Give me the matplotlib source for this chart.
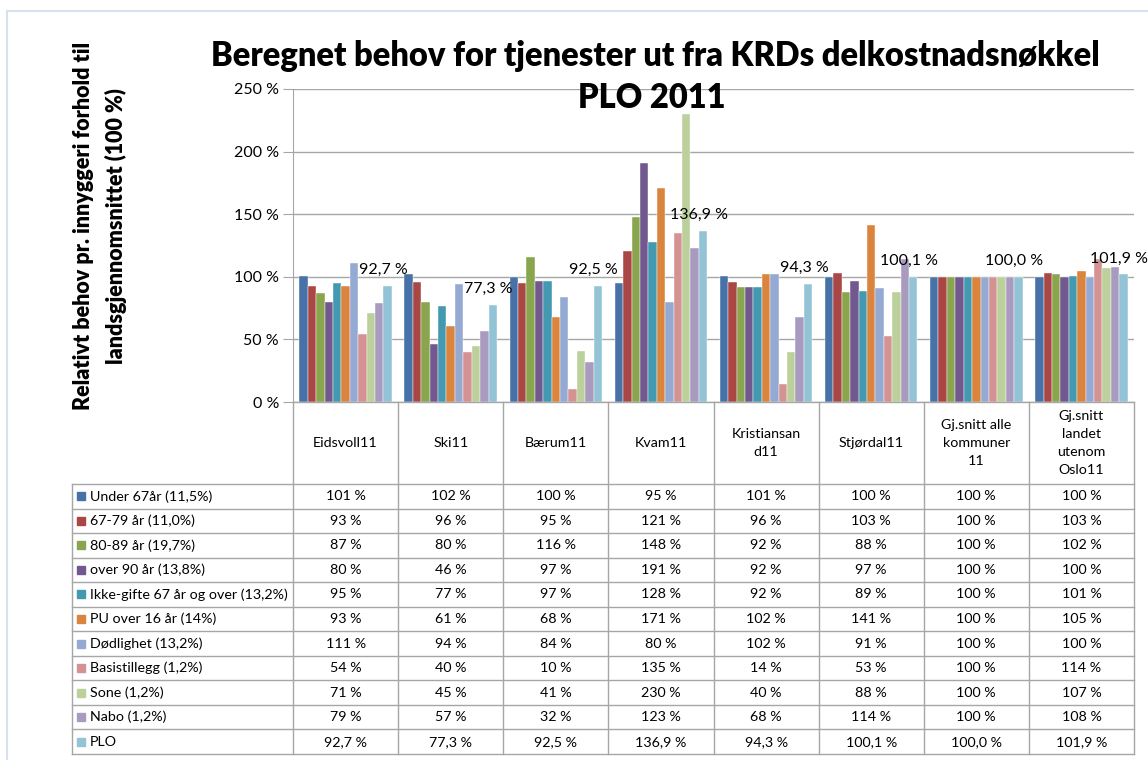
import numpy as np
import matplotlib.pyplot as plt
from matplotlib.lines import Line2D
from matplotlib.patches import Rectangle

plt.rcParams['font.family'] = ['Lato', 'DejaVu Sans']

W, H = 1148, 760

categories = ["Eidsvoll11", "Ski11", "Bærum11", "Kvam11", "Kristiansan\nd11",
              "Stjørdal11", "Gj.snitt alle\nkommuner\n11",
              "Gj.snitt\nlandet\nutenom\nOslo11"]
series_names = ["Under 67år (11,5%)", "67-79 år (11,0%)", "80-89 år (19,7%)",
                "over 90 år (13,8%)", "Ikke-gifte 67 år og over (13,2%)",
                "PU over 16 år (14%)", "Dødlighet (13,2%)", "Basistillegg (1,2%)",
                "Sone (1,2%)", "Nabo (1,2%)", "PLO"]
under_67 = [101, 102, 100, 95, 101, 100, 100, 100]
aar_67_79 = [93, 96, 95, 121, 96, 103, 100, 103]
aar_80_89 = [87, 80, 116, 148, 92, 88, 100, 102]
over_90 = [80, 46, 97, 191, 92, 97, 100, 100]
ikke_gifte = [95, 77, 97, 128, 92, 89, 100, 101]
pu_over_16 = [93, 61, 68, 171, 102, 141, 100, 105]
dodlighet = [111, 94, 84, 80, 102, 91, 100, 100]
basistillegg = [54, 40, 10, 135, 14, 53, 100, 114]
sone = [71, 45, 41, 230, 40, 88, 100, 107]
nabo = [79, 57, 32, 123, 68, 114, 100, 108]
plo = [92.7, 77.3, 92.5, 136.9, 94.3, 100.1, 100.0, 101.9]

series = [under_67, aar_67_79, aar_80_89, over_90, ikke_gifte, pu_over_16,
          dodlighet, basistillegg, sone, nabo, plo]
colors = ["#4672A8", "#AA4744", "#89A54E", "#71598F", "#4299B0", "#DB843D",
          "#95AAD3", "#D49392", "#BBD09A", "#A99BC0", "#93C4D6"]

GRID = "#A6A6A6"


def fx(px):
    return px / W


def fy(py):
    return 1 - py / H


fig = plt.figure(figsize=(W / 100, H / 100), dpi=100)

# outer chart border (only top/left inside the image)
fig.add_artist(Line2D([fx(7), fx(W)], [fy(11), fy(11)], color="#D6E2F0", lw=1.5))
fig.add_artist(Line2D([fx(7), fx(7)], [fy(11), fy(H)], color="#D6E2F0", lw=1.5))

x0, x1, ytop, ybot = 293, 1134, 89, 402
ax = fig.add_axes([fx(x0), fy(ybot), fx(x1 - x0), (ybot - ytop) / H])
ax.set_xlim(0, len(categories))
ax.set_ylim(0, 250)
ax.set_yticks(np.arange(0, 251, 50))
ax.set_yticklabels([f"{v} %" for v in range(0, 251, 50)], fontsize=11.5)
ax.set_xticks([])
for s in ["top", "right", "bottom"]:
    ax.spines[s].set_visible(False)
ax.spines["left"].set_color(GRID)
ax.tick_params(axis="y", color=GRID, length=7, pad=3)
ax.grid(axis="y", color=GRID, lw=1)
ax.set_axisbelow(True)

bw = 0.08
n = len(series)
for j, (vals, c) in enumerate(zip(series, colors)):
    xs = np.arange(len(categories)) + 0.5 + (j - (n - 1) / 2) * bw
    ax.bar(xs, vals, width=bw, color=c, edgecolor="white", linewidth=0.3, zorder=2)
    if j == n - 1:
        for x, v in zip(xs, vals):
            ax.annotate(f"{v:.1f} %".replace(".", ","), (x, v), xytext=(-3, 11.5),
                        textcoords="offset points", ha="center", va="center",
                        fontsize=11.5, annotation_clip=False, zorder=3)

# titles
fig.text(fx(655), fy(56), "Beregnet behov for tjenester ut fra KRDs delkostnadsnøkkel",
         ha="center", va="center", fontsize=23.5, fontweight="heavy")
fig.text(fx(652), fy(98), "PLO 2011", ha="center", va="center",
         fontsize=23.5, fontweight="heavy")
fig.text(fx(100), fy(226), "Relativt behov pr. innyggeri forhold til\nlandsgjennomsnittet (100 %)",
         ha="center", va="center", rotation=90, fontsize=15.5, fontweight="heavy",
         multialignment="center", linespacing=1.55)

# data table
colw = (x1 - x0) / len(categories)
xs_edges = [x0 + i * colw for i in range(len(categories) + 1)]
row_top, row_bot, leg_left = 484, 754, 72
rh = (row_bot - row_top) / n

def hline(xa, xb, y):
    fig.add_artist(Line2D([fx(xa), fx(xb)], [fy(y), fy(y)], color=GRID, lw=1))

def vline(x, ya, yb):
    fig.add_artist(Line2D([fx(x), fx(x)], [fy(ya), fy(yb)], color=GRID, lw=1))

hline(x0, x1, ybot)
for k in range(n + 1):
    hline(leg_left, x1, row_top + k * rh)
for x in xs_edges:
    vline(x, ybot, row_bot)
vline(leg_left, row_top, row_bot)

for i, cat in enumerate(categories):
    cx = (xs_edges[i] + xs_edges[i + 1]) / 2
    fig.text(fx(cx), fy(443), cat, ha="center", va="center", fontsize=10.25,
             multialignment="center", linespacing=1.58)

for j, (name, vals, c) in enumerate(zip(series_names, series, colors)):
    cy = row_top + (j + 0.5) * rh
    fig.add_artist(Rectangle((fx(77), fy(cy + 4)), fx(8), 8 / H, color=c))
    fig.text(fx(90), fy(cy), name, ha="left", va="center", fontsize=10.25)
    for i, v in enumerate(vals):
        cx = (xs_edges[i] + xs_edges[i + 1]) / 2
        if j == n - 1:
            s = f"{v:.1f} %".replace(".", ",")
        else:
            s = f"{v:.0f} %"
        fig.text(fx(cx), fy(cy), s, ha="center", va="center", fontsize=10.25)

fig.savefig("out.png", dpi=100)
